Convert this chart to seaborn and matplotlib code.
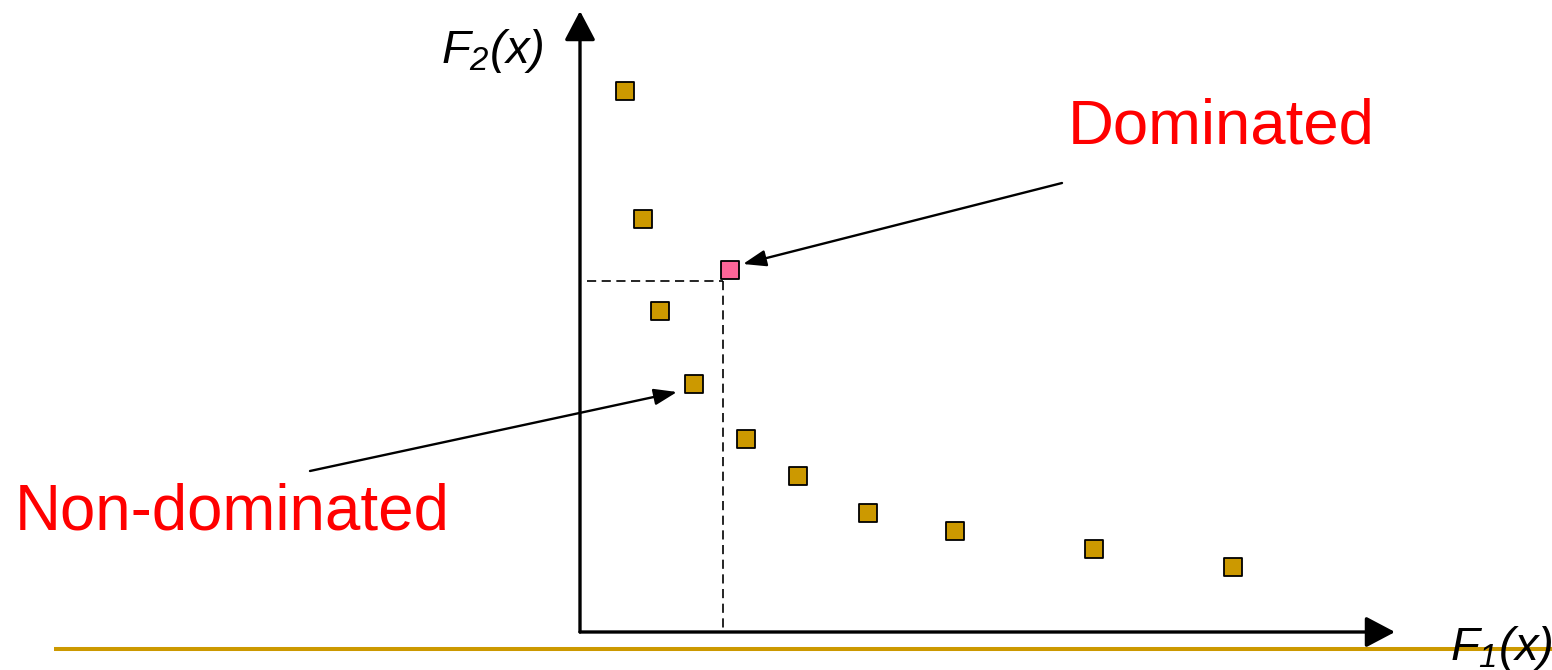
import matplotlib.pyplot as plt
import seaborn as sns
import pandas as pd

# Pareto front sketch: objective values (arbitrary units, origin at the axes corner)
f1_nondom = [45, 63, 80, 114, 166, 218, 288, 375, 514, 653]
f2_nondom = [541, 413, 321, 248, 193, 156, 119, 101, 83, 65]
f1_dom = [150]
f2_dom = [362]

sns.set_style('white')
plt.rcParams['font.family'] = ['Liberation Sans', 'DejaVu Sans']
plt.rcParams['mathtext.fontset'] = 'custom'
plt.rcParams['mathtext.it'] = 'Liberation Sans:italic'
plt.rcParams['mathtext.rm'] = 'Liberation Sans:italic'

df = pd.DataFrame({'F1': f1_nondom, 'F2': f2_nondom})
df_dom = pd.DataFrame({'F1': f1_dom, 'F2': f2_dom})

fig = plt.figure(figsize=(15.52, 6.70), dpi=100)
ax = fig.add_axes([0, 0, 1, 1])
ax.set_xlim(-580, 972)
ax.set_ylim(-38, 632)
ax.axis('off')

# axes with arrow heads
arr = dict(arrowstyle='-|>,head_length=1.8,head_width=0.95', color='black', lw=2.4,
           shrinkA=0, shrinkB=0)
ax.annotate('', xy=(0, 621), xytext=(0, 0), arrowprops=arr)
ax.annotate('', xy=(815, 0), xytext=(0, 0), arrowprops=arr)

# dashed guides to the dominated point
d_x, d_y = f1_dom[0], f2_dom[0]
dash = (0, (5.5, 3.3))
ax.plot([7, d_x - 7], [d_y - 11, d_y - 11], ls=dash, color='black', lw=1.2)
ax.plot([d_x - 7, d_x - 7], [d_y - 11, 0], ls=dash, color='black', lw=1.2)

sns.scatterplot(data=df, x='F1', y='F2', marker='s', s=170, color='#CC9900',
                edgecolor='black', linewidth=1.3, ax=ax, zorder=5)
sns.scatterplot(data=df_dom, x='F1', y='F2', marker='s', s=170, color='#FF6699',
                edgecolor='black', linewidth=1.3, ax=ax, zorder=5)

# labels and pointers
ptr = dict(arrowstyle='-|>,head_length=1.4,head_width=0.5', color='black', lw=1.7,
           shrinkA=0, shrinkB=0)
ax.annotate('', xy=(d_x + 13, d_y + 6), xytext=(482, 449), arrowprops=ptr)
ax.annotate('', xy=(f1_nondom[3] - 17, f2_nondom[3] - 8), xytext=(-270, 161), arrowprops=ptr)
ax.text(488, 488, 'Dominated', color='red', fontsize=45.7, ha='left', va='baseline')
ax.text(-565, 103, 'Non-dominated', color='red', fontsize=45.8, ha='left', va='baseline')

ax.text(-139, 569, r'$F_2(x)$', fontsize=34, color='black', ha='left', va='baseline')
ax.text(870, -28, r'$F_1(x)$', fontsize=34, color='black', ha='left', va='baseline')

# gold rule along the bottom
ax.plot([-526, 972], [-17, -17], color='#CC9900', lw=2.9, solid_capstyle='butt')

fig.savefig('out.png', dpi=100)
